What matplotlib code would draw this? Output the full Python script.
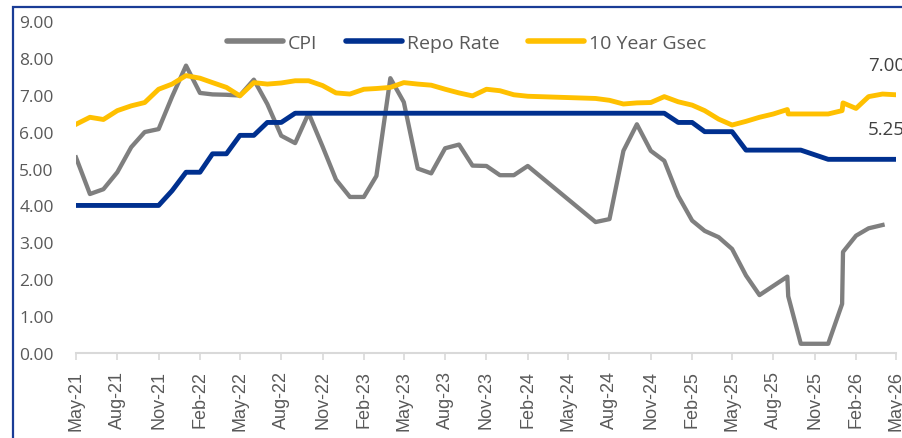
import matplotlib
matplotlib.use("Agg")
import matplotlib.pyplot as plt
import matplotlib.dates as mdates
from matplotlib.lines import Line2D
from matplotlib.patches import Rectangle
import pandas as pd

# ---------------- data ----------------
cpi_dates = ['2021-05-01', '2021-06-01', '2021-07-01', '2021-08-01', '2021-09-01', '2021-10-01',
             '2021-11-01', '2021-12-01', '2022-01-01', '2022-02-01', '2022-03-01', '2022-04-01',
             '2022-05-01', '2022-06-01', '2022-07-01', '2022-08-01', '2022-09-01', '2022-10-01',
             '2022-11-01', '2022-12-01', '2023-01-01', '2023-02-01', '2023-03-01', '2023-04-01',
             '2023-05-01', '2023-06-01', '2023-07-01', '2023-08-01', '2023-09-01', '2023-10-01',
             '2023-11-01', '2023-12-01', '2024-01-01', '2024-02-01', '2024-07-01', '2024-08-01',
             '2024-09-01', '2024-10-01', '2024-11-01', '2024-12-01', '2025-01-01', '2025-02-01',
             '2025-03-01', '2025-04-01', '2025-05-01', '2025-06-01', '2025-07-01', '2025-09-01',
             '2025-09-03', '2025-10-01', '2025-12-01', '2026-01-01', '2026-01-03', '2026-02-01',
             '2026-03-01', '2026-04-01']
cpi_values = [5.30, 4.31, 4.44, 4.90, 5.58, 5.99,
              6.07, 6.95, 7.79, 7.05, 7.01, 7.00,
              6.98, 7.41, 6.75, 5.89, 5.69, 6.50,
              5.60, 4.70, 4.23, 4.23, 4.80, 7.45,
              6.80, 5.00, 4.87, 5.55, 5.65, 5.08,
              5.07, 4.82, 4.82, 5.07, 3.55, 3.63,
              5.48, 6.20, 5.48, 5.21, 4.26, 3.59,
              3.31, 3.14, 2.82, 2.10, 1.57, 2.07,
              1.54, 0.25, 0.25, 1.33, 2.74, 3.18,
              3.38, 3.47]

repo_dates = ['2021-05-01', '2021-11-01', '2021-12-01', '2022-01-01', '2022-02-01', '2022-03-01',
              '2022-04-01', '2022-05-01', '2022-06-01', '2022-07-01', '2022-08-01', '2022-09-01',
              '2024-12-01', '2025-01-01', '2025-02-01', '2025-03-01', '2025-05-01', '2025-06-01',
              '2025-10-01', '2025-12-01', '2026-05-01']
repo_values = [4.00, 4.00, 4.40, 4.90, 4.90, 5.40,
               5.40, 5.90, 5.90, 6.25, 6.25, 6.50,
               6.50, 6.25, 6.25, 6.00, 6.00, 5.50,
               5.50, 5.25, 5.25]

gsec_dates = ['2021-05-01', '2021-06-01', '2021-07-01', '2021-08-01', '2021-09-01', '2021-10-01',
              '2021-11-01', '2021-12-01', '2022-01-01', '2022-02-01', '2022-03-01', '2022-04-01',
              '2022-05-01', '2022-06-01', '2022-07-01', '2022-08-01', '2022-09-01', '2022-10-01',
              '2022-11-01', '2022-12-01', '2023-01-01', '2023-02-01', '2023-03-01', '2023-04-01',
              '2023-05-01', '2023-06-01', '2023-07-01', '2023-08-01', '2023-09-01', '2023-10-01',
              '2023-11-01', '2023-12-01', '2024-01-01', '2024-02-01', '2024-07-01', '2024-08-01',
              '2024-09-01', '2024-10-01', '2024-11-01', '2024-12-01', '2025-01-01', '2025-02-01',
              '2025-03-01', '2025-04-01', '2025-05-01', '2025-06-01', '2025-07-01', '2025-08-01',
              '2025-09-01', '2025-09-03', '2025-10-01', '2025-11-01', '2025-12-01', '2026-01-01',
              '2026-01-03', '2026-02-01', '2026-03-01', '2026-04-01', '2026-05-01']
gsec_values = [6.20, 6.39, 6.33, 6.57, 6.70, 6.79,
               7.15, 7.29, 7.52, 7.45, 7.33, 7.20,
               6.97, 7.33, 7.29, 7.32, 7.38, 7.38,
               7.25, 7.05, 7.02, 7.15, 7.17, 7.20,
               7.33, 7.29, 7.26, 7.15, 7.05, 6.97,
               7.15, 7.11, 7.00, 6.96, 6.90, 6.85,
               6.75, 6.78, 6.79, 6.95, 6.81, 6.72,
               6.57, 6.34, 6.18, 6.28, 6.39, 6.48,
               6.60, 6.48, 6.48, 6.48, 6.48, 6.57,
               6.78, 6.63, 6.95, 7.02, 7.00]

series_names = ['CPI', 'Repo Rate', '10 Year Gsec']
y_ticks = [0, 1, 2, 3, 4, 5, 6, 7, 8, 9]
x_start, x_end = '2021-05-01', '2026-05-01'
end_labels = ['7.00', '5.25']

# ---------------- style ----------------
C_CPI = '#7f7f7f'
C_REPO = '#00308f'
C_GSEC = '#ffc000'
C_TEXT = '#595959'
LEG_FONT = 'Open Sans'

fig = plt.figure(figsize=(9.02, 4.39), dpi=100)
ax = fig.add_axes([76 / 902, 1 - 354 / 439, 820 / 902, 332 / 439])

ax.plot(pd.to_datetime(cpi_dates), cpi_values, color=C_CPI, lw=3.1, zorder=3)
ax.plot(pd.to_datetime(repo_dates), repo_values, color=C_REPO, lw=3.5, zorder=4)
ax.plot(pd.to_datetime(gsec_dates), gsec_values, color=C_GSEC, lw=3.5, zorder=5)

ax.set_xlim(pd.Timestamp(x_start), pd.Timestamp(x_end))
ax.set_ylim(0, 9)
ax.set_yticks(y_ticks)
ax.set_yticklabels([f'{v:.2f}' for v in y_ticks], fontfamily=LEG_FONT, fontsize=12.5, color=C_TEXT)
ax.tick_params(axis='y', length=0, pad=16)

ticks = pd.date_range(x_start, x_end, freq='3MS')
ax.set_xticks(ticks)
ax.set_xticklabels([t.strftime('%b-%y') for t in ticks], rotation=90,
                   fontfamily='Liberation Sans', fontsize=13, color=C_TEXT)
ax.tick_params(axis='x', length=5, width=1.2, color='#d9d9d9', pad=7)

for s in ['top', 'right', 'left']:
    ax.spines[s].set_visible(False)
ax.spines['bottom'].set_color('#d9d9d9')
ax.spines['bottom'].set_linewidth(1.5)

handles = [Line2D([], [], color=C_CPI, lw=4, solid_capstyle='round'),
           Line2D([], [], color=C_REPO, lw=4, solid_capstyle='round'),
           Line2D([], [], color=C_GSEC, lw=4, solid_capstyle='round')]
leg = ax.legend(handles, series_names, loc='center', bbox_to_anchor=(0.476, 0.934), ncol=3,
                frameon=False, handlelength=2.9, handletextpad=0.25, columnspacing=1.45,
                prop={'family': LEG_FONT, 'size': 14})
for t in leg.get_texts():
    t.set_color(C_TEXT)

# end labels
ax.annotate(end_labels[0], xy=(pd.Timestamp(gsec_dates[-1]), gsec_values[-1]),
            xytext=(-28, 30), textcoords='offset pixels', ha='left', va='center',
            fontfamily=LEG_FONT, fontsize=13.5, color='#404040', annotation_clip=False)
ax.annotate(end_labels[1], xy=(pd.Timestamp(repo_dates[-1]), repo_values[-1]),
            xytext=(-28, 30), textcoords='offset pixels', ha='left', va='center',
            fontfamily=LEG_FONT, fontsize=13.5, color='#404040', annotation_clip=False)

# outer frame (left and top edges visible)
top = 1 - 7.5 / 439
fig.patches.append(Rectangle((13 / 902, -0.2), 1.2, top + 0.2,
                             transform=fig.transFigure, fill=False,
                             edgecolor='#1a3c96', lw=1.6))

fig.savefig('out.png', dpi=100)
